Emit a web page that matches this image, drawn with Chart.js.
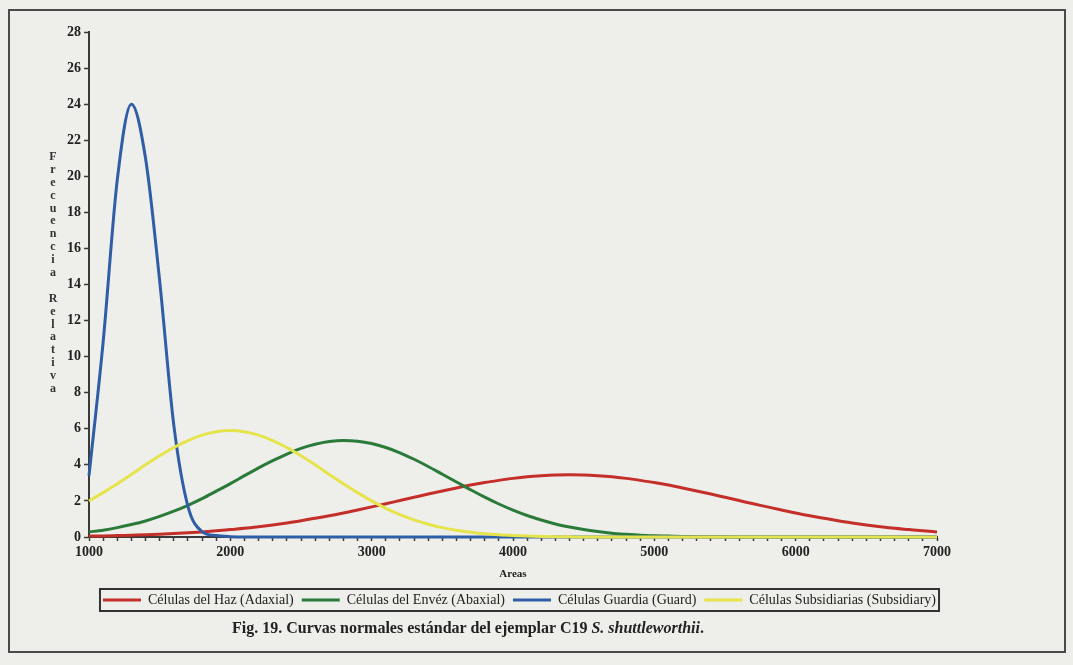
<!DOCTYPE html>
<html lang="es">
<head>
<meta charset="utf-8">
<title>Fig. 19 - Curvas normales</title>
<script src="https://cdn.jsdelivr.net/npm/chart.js@4.4.1/dist/chart.umd.min.js"></script>
<style>
  html, body { margin: 0; padding: 0; background: #eeeeea; }
  body { width: 1073px; height: 665px; position: relative; overflow: hidden; font-family: 'Liberation Serif', serif; }
  #frame { position: absolute; left: 8px; top: 9px; width: 1054px; height: 640px; border: 2px solid #4a4a4a; }
  #chart { position: absolute; left: 0; top: 0; }
  #ytitle { position: absolute; left: 47px; top: 150px; width: 12px; color: #333; font-weight: bold; font-size: 12px; text-align: center; }
  #ytitle span { display: block; height: 12.9px; line-height: 12.9px; }
  #caption { position: absolute; left: 0; top: 618px; width: 936px; text-align: center; font-size: 16px; font-weight: bold; line-height: 20px; color: #222; }
</style>
</head>
<body>
<div id="frame"></div>
<canvas id="chart" width="1073" height="665"></canvas>
<div id="ytitle"></div>
<div id="caption">Fig. 19. Curvas normales estándar del ejemplar C19 <i>S. shuttleworthii</i>.</div>

<script>
// Áreas (eje X) – muestreadas cada 100
const AREAS = [
  1000, 1100, 1200, 1300, 1400, 1500, 1600, 1700, 1800, 1900,
  2000, 2100, 2200, 2300, 2400, 2500, 2600, 2700, 2800, 2900,
  3000, 3100, 3200, 3300, 3400, 3500, 3600, 3700, 3800, 3900,
  4000, 4100, 4200, 4300, 4400, 4500, 4600, 4700, 4800, 4900,
  5000, 5100, 5200, 5300, 5400, 5500, 5600, 5700, 5800, 5900,
  6000, 6100, 6200, 6300, 6400, 6500, 6600, 6700, 6800, 6900,
  7000
];

// Frecuencia relativa por tipo de célula
const HAZ_ADAXIAL = [
  0.05, 0.06, 0.08, 0.10, 0.12, 0.15, 0.19, 0.23, 0.28, 0.34,
  0.41, 0.48, 0.57, 0.67, 0.78, 0.90, 1.04, 1.18, 1.33, 1.50,
  1.67, 1.84, 2.02, 2.20, 2.38, 2.55, 2.72, 2.88, 3.02, 3.14,
  3.25, 3.34, 3.40, 3.44, 3.45, 3.44, 3.40, 3.34, 3.25, 3.14,
  3.02, 2.88, 2.72, 2.55, 2.38, 2.20, 2.02, 1.84, 1.67, 1.50,
  1.33, 1.18, 1.04, 0.90, 0.78, 0.67, 0.57, 0.48, 0.41, 0.34,
  0.28
];
const ENVEZ_ABAXIAL = [
  0.28, 0.38, 0.52, 0.69, 0.89, 1.14, 1.43, 1.76, 2.13, 2.54,
  2.96, 3.40, 3.83, 4.23, 4.60, 4.91, 5.14, 5.29, 5.35, 5.31,
  5.18, 4.96, 4.67, 4.31, 3.91, 3.48, 3.05, 2.62, 2.21, 1.83,
  1.49, 1.19, 0.94, 0.72, 0.55, 0.41, 0.30, 0.21, 0.15, 0.10,
  0.07, 0.05, 0.03, 0.02, 0.01, 0.01, 0, 0, 0, 0,
  0, 0, 0, 0, 0, 0, 0, 0, 0, 0,
  0
];
const GUARDIA = [
  3.4, 10.8, 19.8, 24.0, 21.0, 14.2, 6.2, 1.7, 0.3, 0.08,
  0.02, 0, 0, 0, 0, 0, 0, 0, 0, 0,
  0, 0, 0, 0, 0, 0, 0, 0, 0, 0,
  0, 0, 0, 0, 0, 0, 0, 0, 0, 0,
  0, 0, 0, 0, 0, 0, 0, 0, 0, 0,
  0, 0, 0, 0, 0, 0, 0, 0, 0, 0,
  0
];
const SUBSIDIARIAS = [
  2.00, 2.46, 2.95, 3.47, 4.00, 4.50, 4.96, 5.35, 5.65, 5.84,
  5.90, 5.84, 5.65, 5.35, 4.96, 4.50, 4.00, 3.47, 2.95, 2.46,
  2.00, 1.59, 1.24, 0.95, 0.71, 0.52, 0.37, 0.26, 0.18, 0.12,
  0.08, 0.05, 0.03, 0.02, 0.01, 0, 0, 0, 0, 0,
  0, 0, 0, 0, 0, 0, 0, 0, 0, 0,
  0, 0, 0, 0, 0, 0, 0, 0, 0, 0,
  0
];

const X_MIN = 1000, X_MAX = 7000, X_STEP = 100;
const Y_MIN = 0, Y_MAX = 28, Y_STEP = 2;
const Y_TITLE = 'Frecuencia Relativa';

// Colores de las series (escaneo)
const COLORS = {
  haz:   '#c42f2a',
  envez: '#2a7a3a',
  guard: '#2f5ea6',
  subs:  '#e6e44c',
};
const AXIS_COLOR = '#3a3a3a';
const SERIF = "'Liberation Serif', 'Times New Roman', serif";

function toPoints(values) {
  return AREAS.map((x, i) => ({ x: x, y: values[i] }));
}

function makeDataset(label, values, color, order) {
  return {
    label: label,
    data: toPoints(values),
    borderColor: color,
    backgroundColor: color,
    borderWidth: 3,
    pointRadius: 0,
    tension: 0.4,
    cubicInterpolationMode: 'monotone',
    fill: false,
    clip: 6,
    order: order,
  };
}

// Título vertical del eje Y, letra por letra
(function buildYTitle() {
  const box = document.getElementById('ytitle');
  for (const ch of Y_TITLE) {
    const s = document.createElement('span');
    s.textContent = ch === ' ' ? '\u00a0' : ch;
    box.appendChild(s);
  }
})();

// Marco alrededor de la leyenda
const legendBorder = {
  id: 'legendBorder',
  afterDraw(chart) {
    const lg = chart.legend;
    if (!lg || !lg.legendHitBoxes || !lg.legendHitBoxes.length) return;
    const hb = lg.legendHitBoxes;
    const first = hb[0], last = hb[hb.length - 1];
    const x0 = first.left - 3;
    const x1 = last.left + last.width + 3;
    const cy = first.top + first.height / 2;
    const ctx = chart.ctx;
    ctx.save();
    ctx.strokeStyle = '#333';
    ctx.lineWidth = 2;
    ctx.strokeRect(x0, cy - 11, x1 - x0, 22);
    ctx.restore();
  }
};

const ctx = document.getElementById('chart').getContext('2d');
new Chart(ctx, {
  type: 'line',
  data: {
    datasets: [
      makeDataset('Células del Haz (Adaxial)', HAZ_ADAXIAL, COLORS.haz, 4),
      makeDataset('Células del Envéz (Abaxial)', ENVEZ_ABAXIAL, COLORS.envez, 3),
      makeDataset('Células Guardia (Guard)', GUARDIA, COLORS.guard, 2),
      makeDataset('Células Subsidiarias (Subsidiary)', SUBSIDIARIAS, COLORS.subs, 1),
    ]
  },
  options: {
    responsive: false,
    animation: false,
    events: [],
    layout: {
      padding: { left: 49, right: 83, top: 32, bottom: 48 }
    },
    plugins: {
      legend: {
        display: true,
        position: 'bottom',
        labels: {
          color: '#222',
          font: { family: SERIF, size: 14 },
          boxWidth: 38,
          boxHeight: 3,
          padding: 8,
          sort: (a, b) => a.datasetIndex - b.datasetIndex,
          // muestra de línea fina, sin contorno
          generateLabels: (chart) =>
            Chart.defaults.plugins.legend.labels.generateLabels(chart)
              .map(l => Object.assign(l, { lineWidth: 0 })),
        }
      },
      tooltip: { enabled: false },
    },
    scales: {
      x: {
        type: 'linear',
        min: X_MIN,
        max: X_MAX,
        afterFit: (scale) => { scale.height = 48; },
        ticks: {
          stepSize: X_STEP,
          autoSkip: false,
          maxRotation: 0,
          color: '#222',
          padding: 3,
          font: { family: SERIF, size: 14, weight: 'bold' },
          callback: (v) => (v % 1000 === 0 ? String(v) : ''),
        },
        grid: {
          drawOnChartArea: false,
          drawTicks: true,
          tickLength: 4,
          tickColor: AXIS_COLOR,
          tickWidth: 1.5,
        },
        border: { display: true, color: AXIS_COLOR, width: 2 },
        title: {
          display: true,
          text: 'Areas',
          color: '#222',
          font: { family: SERIF, size: 11, weight: 'bold' },
          padding: { top: 0, bottom: 4 },
        },
      },
      y: {
        min: Y_MIN,
        max: Y_MAX,
        afterFit: (scale) => { scale.width = 40; },
        ticks: {
          stepSize: Y_STEP,
          color: '#222',
          padding: 3,
          font: { family: SERIF, size: 14, weight: 'bold' },
        },
        grid: {
          drawOnChartArea: false,
          drawTicks: true,
          tickLength: 5,
          tickColor: AXIS_COLOR,
          tickWidth: 1.5,
        },
        border: { display: true, color: AXIS_COLOR, width: 2 },
      },
      // margen vacío a la derecha del área del gráfico
      yRight: {
        position: 'right',
        min: Y_MIN,
        max: Y_MAX,
        afterFit: (scale) => { scale.width = 53; },
        ticks: { display: false },
        grid: { display: false, drawTicks: false },
        border: { display: false },
      }
    }
  },
  plugins: [legendBorder]
});
</script>
</body>
</html>
